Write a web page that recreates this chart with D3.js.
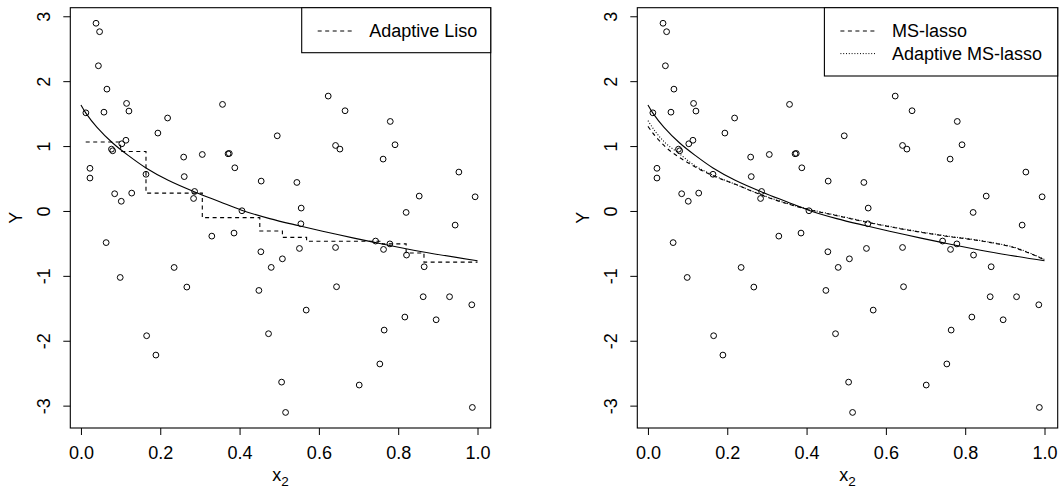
<!DOCTYPE html>
<html>
<head>
<meta charset="utf-8">
<script src="https://cdn.jsdelivr.net/npm/d3@7"></script>
<style>
  body { margin: 0; background: #fff; }
  svg { display: block; }
  text { font-family: "Liberation Sans", Arial, Helvetica, sans-serif; font-size: 18px; fill: #000; }
</style>
</head>
<body>
<svg id="chart" width="1060" height="490"></svg>
<script>
// Observed sample: covariate x2 and response Y
const x2 = [0.038, 0.047, 0.044, 0.0655, 0.058, 0.0124, 0.115, 0.121, 0.2185, 0.357,
            0.194, 0.1134, 0.103, 0.077, 0.080, 0.0227, 0.0227, 0.164, 0.085, 0.1017,
            0.128, 0.259, 0.2605, 0.306, 0.371, 0.374, 0.388, 0.2866, 0.284, 0.406,
            0.330, 0.386, 0.0635, 0.495, 0.4545, 0.5445, 0.6235, 0.666, 0.780, 0.642,
            0.653, 0.792, 0.762, 0.953, 0.5554, 0.853, 0.994, 0.820, 0.5546, 0.9436,
            0.743, 0.779, 0.763, 0.821, 0.8655, 0.551, 0.642, 0.508, 0.6445, 0.568,
            0.863, 0.9295, 0.9856, 0.8168, 0.8957, 0.7646, 0.7537, 0.7017, 0.506, 0.516,
            0.987, 0.099, 0.235, 0.267, 0.1656, 0.189, 0.4537, 0.4798, 0.4487, 0.473];
const yObs = [2.90, 2.77, 2.245, 1.885, 1.53, 1.52, 1.665, 1.547, 1.44, 1.65,
              1.208, 1.097, 1.043, 0.96, 0.935, 0.665, 0.515, 0.573, 0.273, 0.157,
              0.283, 0.838, 0.537, 0.878, 0.889, 0.894, 0.673, 0.308, 0.20, 0.011,
              -0.38, -0.333, -0.48, 1.166, 0.468, 0.447, 1.778, 1.552, 1.387, 1.017,
              0.961, 1.028, 0.807, 0.607, 0.052, 0.237, 0.226, -0.015, -0.19, -0.21,
              -0.456, -0.50, -0.585, -0.672, -0.852, -0.57, -0.555, -0.73, -1.16, -1.52,
              -1.314, -1.314, -1.438, -1.627, -1.669, -1.828, -2.35, -2.675, -2.63, -3.097,
              -3.02, -1.017, -0.863, -1.165, -1.915, -2.213, -0.621, -0.862, -1.217, -1.884];

// True regression function
const trueX = [0, 0.012, 0.04, 0.08, 0.12, 0.164, 0.22, 0.287, 0.35, 0.405, 0.476, 0.55, 0.65, 0.743, 0.86, 1.0];
const trueY = [1.64, 1.52, 1.30, 1.055, 0.86, 0.67, 0.48, 0.30, 0.15, 0.02, -0.11, -0.22, -0.36, -0.48, -0.62, -0.76];

// Adaptive Liso fit (piecewise constant, value holds until next knot)
const lisoX = [0.012, 0.10, 0.164, 0.306, 0.451, 0.508, 0.569, 0.76, 0.82, 0.865, 1.0];
const lisoY = [1.07, 0.925, 0.283, -0.095, -0.30, -0.40, -0.46, -0.50, -0.64, -0.78, -0.78];

// MS-lasso fit
const msX = [0, 0.02, 0.045, 0.075, 0.115, 0.164, 0.224, 0.283, 0.345, 0.405, 0.48, 0.555, 0.635, 0.745, 0.845, 0.93, 1.0];
const msY = [1.31, 1.15, 0.99, 0.85, 0.70, 0.55, 0.41, 0.26, 0.13, 0.03, -0.07, -0.17, -0.265, -0.375, -0.46, -0.57, -0.745];

// Adaptive MS-lasso fit
const amsX = [0, 0.02, 0.045, 0.075, 0.115, 0.164, 0.224, 0.283, 0.345, 0.405, 0.48, 0.555, 0.635, 0.745, 0.845, 0.93, 1.0];
const amsY = [1.40, 1.22, 1.05, 0.91, 0.72, 0.56, 0.41, 0.265, 0.135, 0.035, -0.065, -0.165, -0.26, -0.37, -0.455, -0.565, -0.74];

const xTicks = [0, 0.2, 0.4, 0.6, 0.8, 1.0];
const yTicks = [-3, -2, -1, 0, 1, 2, 3];
const xTickLabels = ["0.0", "0.2", "0.4", "0.6", "0.8", "1.0"];
const yTickLabels = ["-3", "-2", "-1", "0", "1", "2", "3"];

const svg = d3.select("#chart");

// Plot region of a panel (box edges) and horizontal shift of the second panel
const box = { left: 70.3, right: 490.7, top: 7.7, bottom: 428 };
const panelShift = 567;

// Axis ranges padded by 4% of the data range on each side
function padded(ext) {
  const d = (ext[1] - ext[0]) * 0.04;
  return [ext[0] - d, ext[1] + d];
}
const xDom = padded(d3.extent(x2));
const yDom = padded(d3.extent(yObs));

function drawPanel(offset, fits, legend) {
  const g = svg.append("g").attr("transform", `translate(${offset},0)`);
  const x = d3.scaleLinear().domain(xDom).range([box.left, box.right]);
  const y = d3.scaleLinear().domain(yDom).range([box.bottom, box.top]);

  // points
  g.append("g").selectAll("circle")
    .data(x2.map((v, i) => [v, yObs[i]]))
    .join("circle")
    .attr("cx", d => x(d[0]))
    .attr("cy", d => y(d[1]))
    .attr("r", 2.9)
    .attr("fill", "none")
    .attr("stroke", "#000")
    .attr("stroke-width", 1);

  // fitted curves
  fits.forEach(f => {
    const line = d3.line().x(d => x(d[0])).y(d => y(d[1])).curve(f.curve);
    g.append("path")
      .datum(f.xs.map((v, i) => [v, f.ys[i]]))
      .attr("d", line)
      .attr("fill", "none")
      .attr("stroke", "#000")
      .attr("stroke-width", 1.1)
      .attr("stroke-dasharray", f.dash);
  });

  // axes
  const xAxis = d3.axisBottom(x).tickValues(xTicks).tickSize(7).tickPadding(7)
    .tickFormat((d, i) => xTickLabels[i]);
  const gx = g.append("g").attr("transform", `translate(0,${box.bottom})`).call(xAxis);
  gx.select(".domain").remove();
  gx.selectAll("line").attr("stroke", "#000");
  gx.selectAll("text").attr("font-size", 18)
    .attr("font-family", '"Liberation Sans", Arial, sans-serif').attr("dy", "0.95em");

  const yAxis = d3.axisLeft(y).tickValues(yTicks).tickSize(7).tickFormat((d, i) => yTickLabels[i]);
  const gy = g.append("g").attr("transform", `translate(${box.left},0)`).call(yAxis);
  gy.select(".domain").remove();
  gy.selectAll("line").attr("stroke", "#000");
  gy.selectAll("text")
    .attr("font-size", 18)
    .attr("font-family", '"Liberation Sans", Arial, sans-serif')
    .attr("x", null).attr("dy", null)
    .attr("text-anchor", "middle")
    .attr("transform", d => `translate(${-20.3},${y(d)}) rotate(-90)`)
    .attr("y", 0);
  gy.selectAll(".tick").attr("transform", null);
  gy.selectAll(".tick line").attr("transform", d => `translate(0,${y(d)})`);

  // frame
  g.append("rect")
    .attr("x", box.left).attr("y", box.top)
    .attr("width", box.right - box.left).attr("height", box.bottom - box.top)
    .attr("fill", "none").attr("stroke", "#000").attr("stroke-width", 1.1);

  // axis titles
  const xt = g.append("text")
    .attr("x", (box.left + box.right) / 2).attr("y", 481)
    .attr("text-anchor", "middle");
  xt.append("tspan").text("x");
  xt.append("tspan").attr("font-size", 13.5).attr("dy", 4.5).text("2");

  g.append("text")
    .attr("transform", `translate(21.7,${(box.top + box.bottom) / 2}) rotate(-90)`)
    .attr("text-anchor", "middle")
    .text("Y");

  // legend
  const lg = g.append("g");
  const lh = 45 + (legend.items.length - 1) * 23.3;
  lg.append("rect")
    .attr("x", box.right - legend.width).attr("y", box.top)
    .attr("width", legend.width).attr("height", lh)
    .attr("fill", "#fff").attr("stroke", "#000").attr("stroke-width", 1.1);
  legend.items.forEach((it, i) => {
    const cy = 31 + i * 22.6;
    const x0 = box.right - legend.width;
    lg.append("line")
      .attr("x1", x0 + 16).attr("x2", x0 + 51)
      .attr("y1", cy).attr("y2", cy)
      .attr("stroke", "#000").attr("stroke-width", 1)
      .attr("stroke-dasharray", it.dash);
    lg.append("text").attr("x", x0 + 67.6).attr("y", cy + 6.2).text(it.label);
  });
}

const dashed = "4,3.5";
const dotted = "1,1.8";

drawPanel(0, [
  { xs: trueX, ys: trueY, curve: d3.curveCatmullRom, dash: null },
  { xs: lisoX, ys: lisoY, curve: d3.curveStepAfter, dash: dashed }
], { width: 189, items: [{ label: "Adaptive Liso", dash: dashed }] });

drawPanel(panelShift, [
  { xs: trueX, ys: trueY, curve: d3.curveCatmullRom, dash: null },
  { xs: msX, ys: msY, curve: d3.curveMonotoneX, dash: dashed },
  { xs: amsX, ys: amsY, curve: d3.curveMonotoneX, dash: dotted }
], { width: 233.3, items: [{ label: "MS-lasso", dash: dashed }, { label: "Adaptive MS-lasso", dash: dotted }] });
</script>
</body>
</html>
